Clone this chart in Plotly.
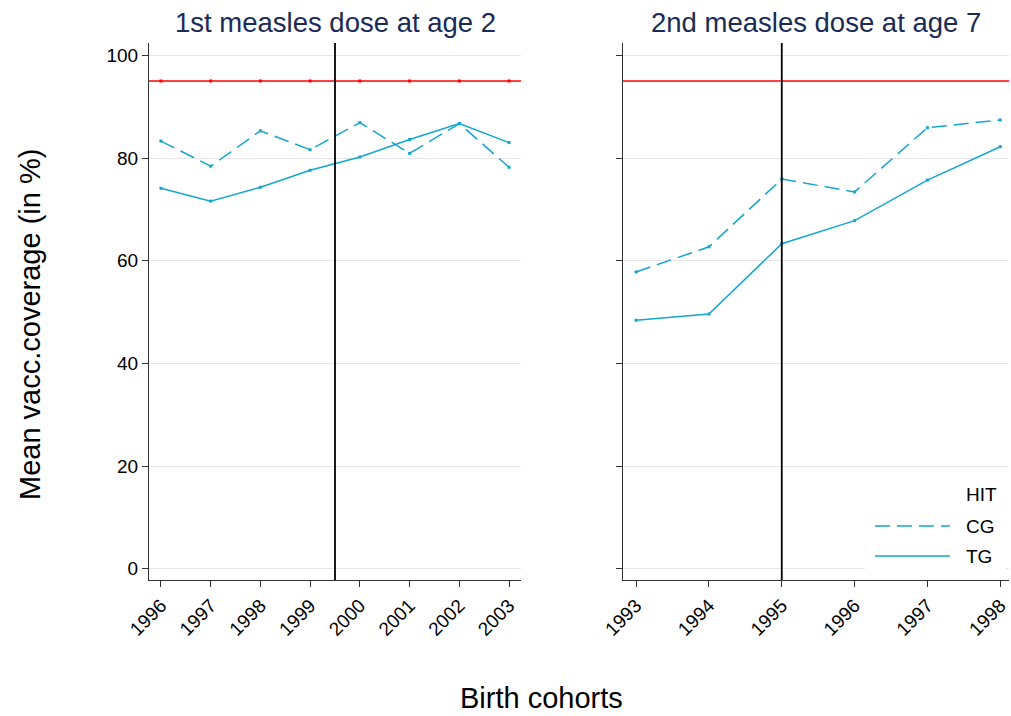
import plotly.graph_objects as go

# ---- data ----
years_1 = [1996, 1997, 1998, 1999, 2000, 2001, 2002, 2003]
cg_1 = [83.3, 78.4, 85.3, 81.6, 86.9, 80.9, 86.7, 78.2]
tg_1 = [74.1, 71.6, 74.3, 77.6, 80.2, 83.6, 86.7, 83.0]

years_2 = [1993, 1994, 1995, 1996, 1997, 1998]
cg_2 = [57.8, 62.7, 75.9, 73.4, 85.9, 87.4]
tg_2 = [48.4, 49.6, 63.3, 67.8, 75.7, 82.2]

hit = 95
cutoff_1 = 1999.5
cutoff_2 = 1995
y_ticks = [0, 20, 40, 60, 80, 100]

panel_titles = ["1st measles dose at age 2", "2nd measles dose at age 7"]
legend_labels = ["HIT", "CG", "TG"]

# ---- styles ----
blue = "#12a7cf"
red = "#ff0000"
dash_cg = "15px,7px"
font = "Liberation Sans, Arial, sans-serif"
W, H = 1011, 716

fig = go.Figure()

# HIT markers in left panel
fig.add_trace(go.Scatter(x=years_1, y=[hit] * len(years_1), mode="markers",
                         marker=dict(color=red, size=3, symbol="square"),
                         showlegend=False, xaxis="x", yaxis="y"))

for xs, cg, tg, xa, ya in [(years_1, cg_1, tg_1, "x", "y"),
                           (years_2, cg_2, tg_2, "x2", "y2")]:
    fig.add_trace(go.Scatter(x=xs, y=cg, mode="lines+markers", name="CG",
                             line=dict(color=blue, width=1.5, dash=dash_cg),
                             marker=dict(color=blue, size=3, symbol="square"),
                             showlegend=False, xaxis=xa, yaxis=ya))
    fig.add_trace(go.Scatter(x=xs, y=tg, mode="lines+markers", name="TG",
                             line=dict(color=blue, width=1.5),
                             marker=dict(color=blue, size=3, symbol="square"),
                             showlegend=False, xaxis=xa, yaxis=ya))

shapes = []
for xref, yref, cut in [("x", "y", cutoff_1), ("x2", "y2", cutoff_2)]:
    shapes.append(dict(type="line", xref=xref + " domain", yref=yref,
                       x0=0, x1=1, y0=hit, y1=hit,
                       line=dict(color=red, width=1.6), layer="above"))
    shapes.append(dict(type="line", xref=xref, yref=yref + " domain",
                       x0=cut, x1=cut, y0=0, y1=1,
                       line=dict(color="black", width=1.8), layer="above"))

# custom legend (white box, key lines, labels)
shapes.append(dict(type="rect", xref="paper", yref="paper",
                   x0=865 / W, x1=1006 / W, y0=1 - 576 / H, y1=1 - 478 / H,
                   fillcolor="white", line=dict(width=0), layer="above"))
shapes.append(dict(type="line", xref="paper", yref="paper",
                   x0=875 / W, x1=950 / W, y0=1 - 526 / H, y1=1 - 526 / H,
                   line=dict(color=blue, width=1.5, dash=dash_cg), layer="above"))
shapes.append(dict(type="line", xref="paper", yref="paper",
                   x0=875 / W, x1=950 / W, y0=1 - 556 / H, y1=1 - 556 / H,
                   line=dict(color=blue, width=1.5), layer="above"))

axis_common = dict(showline=True, linecolor="#333333", linewidth=1.2,
                   ticks="outside", ticklen=6, tickcolor="#333333",
                   tickfont=dict(family=font, size=19, color="black"),
                   zeroline=False, automargin=False)

yrange = [-2.2, 102.4]

annotations = [
    dict(text=panel_titles[0], xref="paper", yref="paper",
         x=335 / W, y=1 - 22 / H, showarrow=False,
         xanchor="center", yanchor="middle",
         font=dict(family=font, size=27.5, color="#1a2b57")),
    dict(text=panel_titles[1], xref="paper", yref="paper",
         x=816 / W, y=1 - 22 / H, showarrow=False,
         xanchor="center", yanchor="middle",
         font=dict(family=font, size=27.5, color="#1a2b57")),
    dict(text="Mean vacc.coverage (in %)", xref="paper", yref="paper",
         x=30 / W, y=1 - 325 / H, showarrow=False, textangle=-90,
         xanchor="center", yanchor="middle",
         font=dict(family=font, size=29, color="black")),
    dict(text="Birth cohorts", xref="paper", yref="paper",
         x=541 / W, y=1 - 698 / H, showarrow=False,
         xanchor="center", yanchor="middle",
         font=dict(family=font, size=29, color="black")),
]
for lab, ypix in zip(legend_labels, [494, 526, 556]):
    annotations.append(dict(text=lab, xref="paper", yref="paper",
                            x=964 / W, y=1 - ypix / H, showarrow=False,
                            xanchor="left", yanchor="middle",
                            font=dict(family=font, size=19, color="black")))

fig.update_layout(
    width=W, height=H,
    margin=dict(l=0, r=0, t=0, b=0, autoexpand=False),
    paper_bgcolor="white", plot_bgcolor="white",
    showlegend=False,
    xaxis=dict(domain=[149 / W, 521 / W], range=[1995.76, 2003.24],
               tickvals=years_1, ticktext=[str(v) for v in years_1],
               tickangle=-45, showgrid=False, **axis_common),
    yaxis=dict(domain=[1 - 580 / H, 1 - 43 / H], range=yrange,
               tickvals=y_ticks, showgrid=True, gridcolor="#e6e6e6",
               gridwidth=1, **axis_common),
    xaxis2=dict(domain=[623 / W, 1009 / W], range=[1992.82, 1998.12],
                tickvals=years_2, ticktext=[str(v) for v in years_2],
                tickangle=-45, showgrid=False, anchor="y2", **axis_common),
    yaxis2=dict(domain=[1 - 580 / H, 1 - 43 / H], range=yrange,
                tickvals=y_ticks, showticklabels=False, showgrid=True,
                gridcolor="#e6e6e6", gridwidth=1, anchor="x2", **axis_common),
    shapes=shapes,
    annotations=annotations,
)

fig.write_html("out.html", config={"displayModeBar": False},
               post_script="document.body.style.margin='0';"
                           "document.body.style.overflow='hidden';")
